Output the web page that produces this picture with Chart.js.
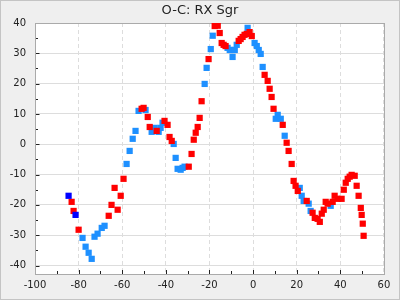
<!DOCTYPE html>
<html>
<head>
<meta charset="utf-8">
<script src="https://cdn.jsdelivr.net/npm/chart.js@4"></script>
<style>
  html, body { margin: 0; padding: 0; background: #efefef; }
  #wrap { width: 400px; height: 300px; position: relative; }
</style>
</head>
<body>
<div id="wrap"><canvas id="ocChart"></canvas></div>
<script>
var titleText = 'O-C: RX Sgr';

// red points
var redX = [-83.2, -82.3, -80.0, -66.2, -64.9, -63.5, -62.1, -60.7, -59.4, -51.1, -50.2, -48.3, -47.4, -44.2,
    -40.6, -39.2, -38.3, -37.3, -29.5, -28.2, -27.2, -26.3, -25.4, -24.5, -23.6, -20.4, -17.6, -16.2, -15.3,
    -14.4, -13.5, -12.6, -6.6, -5.7, -4.8, -3.9, -2.9, -1.6, -0.6, 5.3, 6.7, 7.6, 8.5, 9.4, 13.6, 15.4, 16.3,
    17.7, 18.6, 19.5, 20.5, 24.6, 27.3, 28.3, 29.6, 30.6, 31.5, 32.4, 33.3, 34.2, 36.5, 37.4, 38.8, 40.6,
    41.6, 42.5, 43.4, 44.3, 45.2, 46.6, 47.5, 48.4, 49.4, 49.8, 50.3, 50.7];
var redY = [-19.0, -22.0, -28.2, -23.6, -20.0, -14.4, -21.6, -17.0, -11.4, 11.7, 12.0, 9.0, 5.7, 4.4,
    7.7, 6.4, 2.4, 1.1, -7.4, -3.2, 1.5, 3.8, 5.7, 8.7, 14.2, 28.1, 39.0, 39.1, 36.7,
    33.4, 32.8, 32.4, 34.1, 34.7, 35.4, 36.1, 36.4, 37.0, 35.7, 22.9, 20.9, 18.3, 15.6, 11.7, 6.4, 0.5, -2.2,
    -6.5, -12.1, -13.7, -15.4, -18.7, -22.6, -24.3, -24.6, -25.6, -22.9, -21.6, -19.0, -19.6, -19.0, -17.0, -18.0, -18.0,
    -15.0, -12.7, -11.4, -10.7, -10.1, -10.4, -13.7, -17.0, -21.0, -23.3, -26.2, -30.2];

// light blue points
var blueX = [-78.2, -76.8, -75.4, -74.0, -72.7, -71.3, -69.4, -68.1, -58.0, -56.6, -55.2, -53.9, -52.5, -49.3,
    -46.5, -45.1, -43.3, -42.4, -41.5, -36.4, -35.5, -34.6, -33.2, -32.3, -31.4, -22.2, -21.3, -19.4, -18.5,
    -11.7, -10.7, -9.8, -9.4, -8.4, -7.5, -2.5, 0.7, 1.7, 2.6, 3.5, 4.4, 10.4, 11.3, 12.7, 14.5, 21.4, 22.3,
    23.2, 25.5, 26.4, 35.6];
var blueY = [-30.9, -33.8, -35.8, -37.8, -30.5, -29.5, -27.6, -26.9, -6.5, -2.2, 1.8, 4.4, 11.0, 11.3,
    4.1, 5.4, 4.1, 5.4, 7.1, 0.1, -4.5, -8.1, -8.4, -7.8, -7.4, 19.9, 25.2, 31.4, 35.8,
    31.8, 31.1, 31.1, 28.8, 31.1, 32.8, 38.4, 33.4, 32.4, 31.1, 29.8, 25.5, 8.4, 9.7, 8.4, 2.8, -14.4, -17.0,
    -18.7, -19.6, -22.0, -20.3];

// dark blue points
var darkX = [-84.6, -81.4];
var darkY = [-17.0, -23.3];

var xTicks = [-100, -80, -60, -40, -20, 0, 20, 40, 60];
var yTicks = [-40, -30, -20, -10, 0, 10, 20, 30, 40];

function toPoints(xs, ys) {
    return xs.map((x, i) => ({ x: x, y: ys[i] }));
}

Chart.defaults.font.family = 'DejaVu Sans';
Chart.defaults.font.size = 10;
Chart.defaults.color = '#222';

// background, plot frame, inner tick marks and title
var frame = {
    id: 'frame',
    beforeDraw: function (chart) {
        var c = chart.ctx, a = chart.chartArea;
        c.save();
        c.fillStyle = '#efefef';
        c.fillRect(0, 0, chart.width, chart.height);
        c.fillStyle = '#ffffff';
        c.fillRect(a.left, a.top, a.right - a.left, a.bottom - a.top);
        c.restore();
    },
    beforeDatasetsDraw: function (chart) {
        var c = chart.ctx, a = chart.chartArea;
        var xs = chart.scales.x, ys = chart.scales.y;
        c.save();
        c.strokeStyle = '#222';
        c.lineWidth = 1;
        c.beginPath();
        for (var v = -100; v <= 60; v += 10) {
            var px = Math.round(xs.getPixelForValue(v)) + 0.5;
            var len = v % 20 === 0 ? 4 : 3;
            c.moveTo(px, a.bottom);
            c.lineTo(px, a.bottom - len);
        }
        for (var w = -40; w <= 40; w += 5) {
            var py = Math.round(ys.getPixelForValue(w)) + 0.5;
            var l = w % 10 === 0 ? 4.5 : 3;
            c.moveTo(a.left, py);
            c.lineTo(a.left + l, py);
        }
        c.stroke();
        c.strokeStyle = '#aaaaaa';
        c.strokeRect(a.left + 0.5, a.top + 0.5, a.right - a.left - 1, a.bottom - a.top);
        c.fillStyle = '#222';
        c.font = '13px "DejaVu Sans"';
        c.textAlign = 'center';
        c.textBaseline = 'middle';
        c.fillText(titleText, 200, 11);
        c.strokeStyle = '#c4c4c4';
        c.strokeRect(0.5, 0.5, chart.width - 1, chart.height - 1);
        c.restore();
    }
};

var pointOpts = { pointStyle: 'rect', pointRadius: 4.4, pointHoverRadius: 4.4, borderWidth: 0 };

var ctx = document.getElementById('ocChart').getContext('2d');
var chart = new Chart(ctx, {
    type: 'scatter',
    data: {
        datasets: [
            Object.assign({ label: 'dark', data: toPoints(darkX, darkY), backgroundColor: '#0000ff' }, pointOpts),
            Object.assign({ label: 'red', data: toPoints(redX, redY), backgroundColor: '#ff0000' }, pointOpts),
            Object.assign({ label: 'blue', data: toPoints(blueX, blueY), backgroundColor: '#1e90ff' }, pointOpts)
        ]
    },
    options: {
        responsive: true,
        maintainAspectRatio: false,
        animation: false,
        layout: { padding: { top: 23, right: 15, bottom: 0, left: 0 } },
        scales: {
            x: {
                type: 'linear',
                min: -100,
                max: 60.5,
                afterBuildTicks: function (s) { s.ticks = xTicks.map(v => ({ value: v })); },
                afterFit: function (s) { s.height = 26; },
                grid: { color: '#dddddd', drawTicks: false },
                border: { display: false, dash: [4, 3] },
                ticks: { padding: 5, maxRotation: 0 }
            },
            y: {
                type: 'linear',
                min: -42.8,
                max: 40,
                afterBuildTicks: function (s) { s.ticks = yTicks.map(v => ({ value: v })); },
                afterFit: function (s) { s.width = 35; },
                grid: { color: '#dddddd', drawTicks: false },
                border: { display: false },
                ticks: { padding: 9 }
            }
        },
        plugins: {
            legend: { display: false },
            title: { display: false },
            tooltip: { enabled: false }
        }
    },
    plugins: [frame]
});
</script>
</body>
</html>
